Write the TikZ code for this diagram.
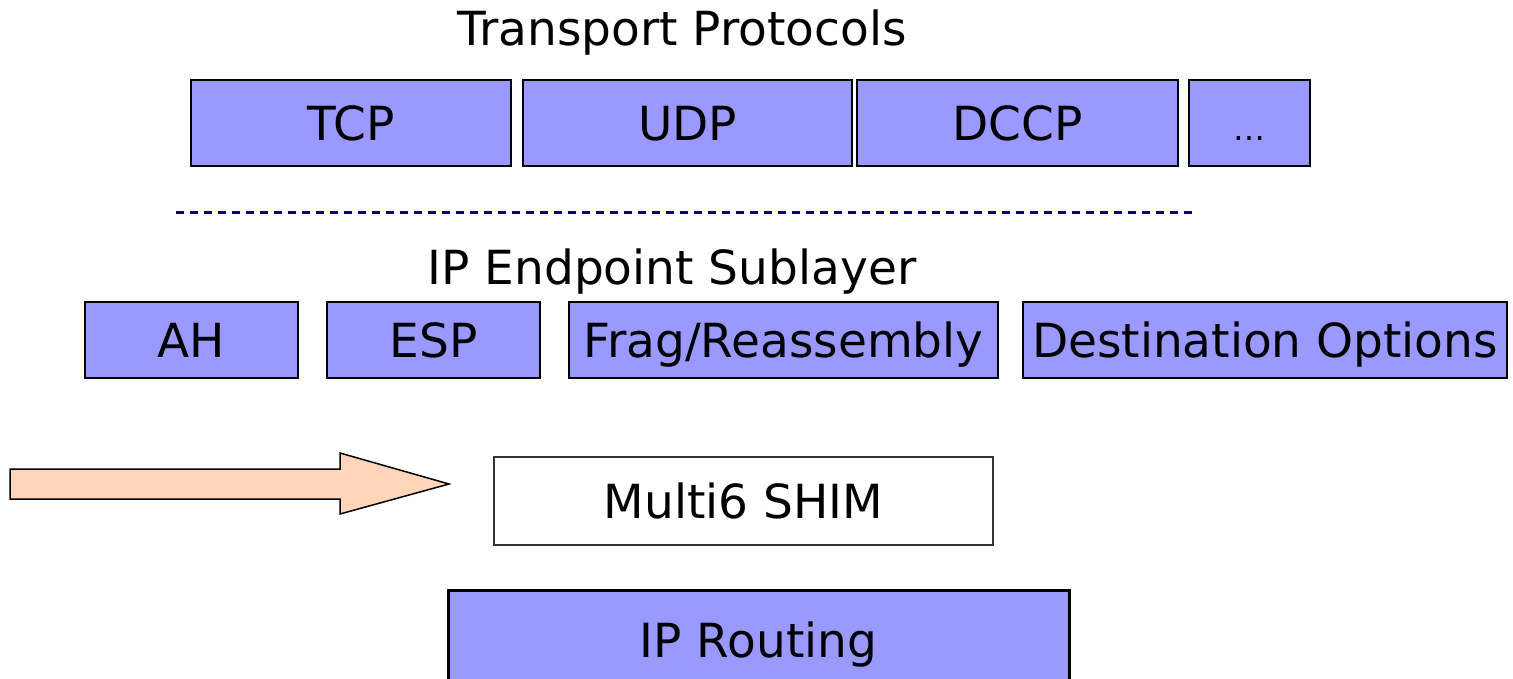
\documentclass[tikz,border=0pt]{standalone}
\usepackage{fontspec}
\setmainfont{DejaVu Sans}
\usetikzlibrary{backgrounds}
\usepackage{xcolor}
\definecolor{layer}{HTML}{9999FF}
\definecolor{shim}{HTML}{FFD5B9}
\definecolor{sublayer}{HTML}{000080}

\begin{document}
\begin{tikzpicture}[x=1pt,y=-1pt,background rectangle/.style={fill=white},show background rectangle,
		proto/.style={draw=black,line width=1.5pt,fill=layer,inner sep=0pt,text height=35pt,text depth=0pt,font=\fontsize{47}{50}\selectfont},
		title/.style={font=\fontsize{47}{50}\selectfont},]
		\useasboundingbox (0,0) rectangle (1513,678);
		% transport layer
		\node [title] (transport) at (682,33) {Transport Protocols};
		\node [proto,minimum width=320,minimum height=86] (tcp) at (351,123) {TCP};
		\node [proto,minimum width=329,minimum height=86] (udp) at (687.5,123) {UDP};
		\node [proto,minimum width=321,minimum height=86] (dccp) at (1017.5,123) {DCCP};
		\node [proto,minimum width=121,minimum height=86,font=\fontsize{32}{34}\selectfont] (more) at (1249.5,123) {\dots};
		% separator
		\coordinate (S1) at (176,212);
		\coordinate (S2) at (1192,212);
		\draw [sublayer,line width=3pt,dash pattern=on 8pt off 6pt] (S1) -- (S2);
		% endpoint sublayer
		\node [title] (endpoint) at (672,272) {IP Endpoint Sublayer};
		\node [proto,minimum width=213,minimum height=76] (ah) at (191.5,340) {AH};
		\node [proto,minimum width=213,minimum height=76] (esp) at (433.5,340) {ESP};
		\node [proto,minimum width=429,minimum height=76] (frag) at (783.5,340) {Frag/Reassembly};
		\node [proto,minimum width=484,minimum height=76] (dest) at (1265,340) {Destination Options};
		% shim
		\draw [fill=shim,line width=1.5pt,line join=miter] (10,469) -- (340,469) -- (340,453) -- (449,484) -- (340,514) -- (340,499) -- (10,499) -- cycle;
		\node [proto,fill=white,draw=black!80,minimum width=499,minimum height=88] (multi6) at (743.5,501) {Multi6 SHIM};
		% routing
		\node [proto,line width=3pt,minimum width=621,minimum height=100] (routing) at (758.5,640) {IP Routing};
	\end{tikzpicture}
\end{document}
